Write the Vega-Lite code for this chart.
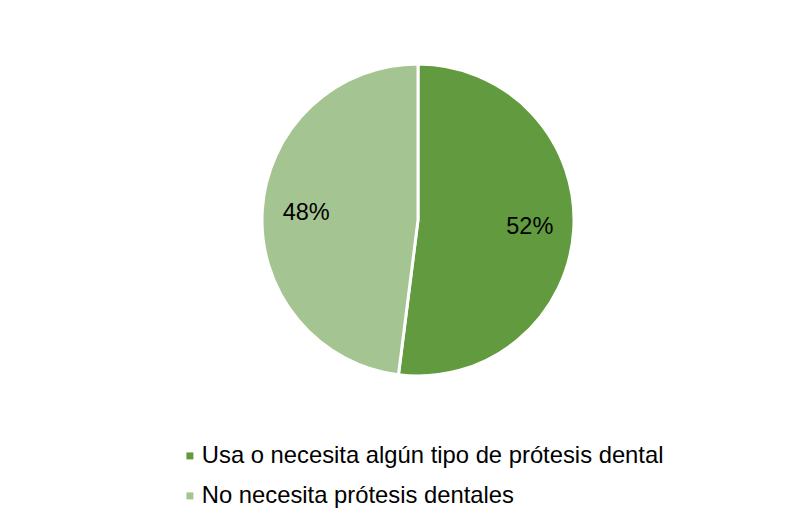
{
  "$schema": "https://vega.github.io/schema/vega-lite/v6.json",
  "autosize": {"type": "none"},
  "padding": {"left": 24, "top": 0, "right": 0, "bottom": 85},
  "width": 788,
  "height": 440,
  "background": "white",
  "config": {"view": {"stroke": null}, "font": "Liberation Sans"},
  "data": {"values": [
    {"category": "Usa o necesita algún tipo de prótesis dental", "value": 52, "label": "52%", "order": 1},
    {"category": "No necesita prótesis dentales", "value": 48, "label": "48%", "order": 2}
  ]},
  "encoding": {
    "theta": {"field": "value", "type": "quantitative", "stack": true},
    "order": {"field": "order", "type": "quantitative"}
  },
  "layer": [
    {
      "mark": {"type": "arc", "outerRadius": 156, "stroke": "white", "strokeWidth": 3},
      "encoding": {
        "color": {
          "field": "category", "type": "nominal",
          "sort": ["Usa o necesita algún tipo de prótesis dental", "No necesita prótesis dentales"],
          "scale": {"domain": ["Usa o necesita algún tipo de prótesis dental", "No necesita prótesis dentales"], "range": ["#629B3F", "#A4C591"]},
          "legend": {
            "title": null, "orient": "none", "legendX": 154, "legendY": 444, "direction": "vertical",
            "symbolType": "square", "symbolSize": 49, "symbolStrokeWidth": 0,
            "labelFontSize": 23.8, "labelColor": "#000000", "labelFont": "Liberation Sans",
            "labelOffset": 0, "rowPadding": 15, "padding": 0, "labelLimit": 800
          }
        }
      }
    },
    {
      "mark": {"type": "text", "radius": 112, "fontSize": 23.5, "color": "#000000", "font": "Liberation Sans"},
      "encoding": {"text": {"field": "label"}}
    }
  ]
}
